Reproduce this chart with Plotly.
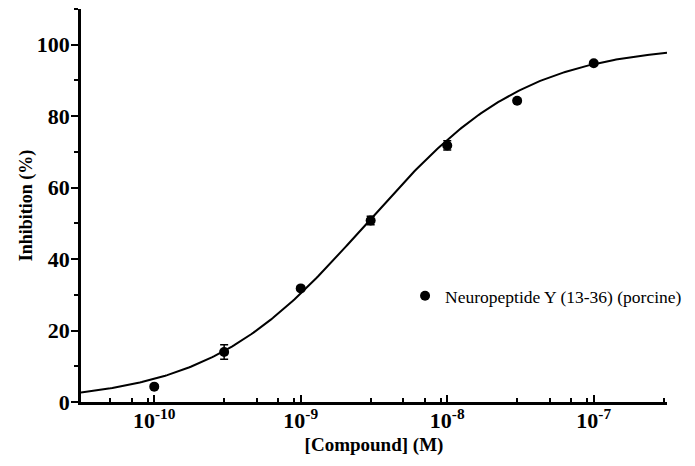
import numpy as np
import plotly.graph_objects as go

# Data
concentrations = [1e-10, 3e-10, 1e-9, 3e-9, 1e-8, 3e-8, 1e-7]
inhibition = [4.3, 14.0, 31.8, 50.8, 71.8, 84.3, 94.8]
inhibition_err = [0.4, 2.0, 0.6, 1.2, 1.3, 0.6, 0.5]
series_name = "Neuropeptide Y (13-36) (porcine)"

# 4-parameter logistic fit parameters
fit_bottom = 0.0
fit_top = 100.0
fit_log_ic50 = -8.55
fit_hill = 0.8

x_tickvals = [1e-10, 1e-9, 1e-8, 1e-7]
x_ticktext = ["10<sup>-10</sup>", "10<sup>-9</sup>", "10<sup>-8</sup>", "10<sup>-7</sup>"]
x_minor_vals = [m * 10.0 ** e for e in range(-11, -6) for m in (3, 5, 7, 9)]
y_tickvals = [0, 20, 40, 60, 80, 100]

x_log_range = [-10.5, -6.5]
y_range = [0, 110]

curve_x = np.logspace(x_log_range[0], x_log_range[1], 300)
curve_y = fit_bottom + (fit_top - fit_bottom) / (1 + (10 ** fit_log_ic50 / curve_x) ** fit_hill)

FONT = "Liberation Serif"

fig = go.Figure()
fig.add_trace(go.Scatter(
    x=curve_x, y=curve_y, mode="lines",
    line=dict(color="black", width=2),
    showlegend=False, hoverinfo="skip",
))
fig.add_trace(go.Scatter(
    x=concentrations, y=inhibition, mode="markers",
    name=series_name,
    marker=dict(color="black", size=10),
    error_y=dict(type="data", array=inhibition_err, color="black", thickness=1.5, width=4),
))

fig.update_layout(
    width=695, height=466,
    margin=dict(l=81, r=8, t=9, b=64),
    plot_bgcolor="white", paper_bgcolor="white",
    font=dict(family=FONT, color="black"),
    legend=dict(
        x=0.553, y=0.27, xanchor="left", yanchor="middle",
        font=dict(family=FONT, size=17.5, color="black"),
        bgcolor="rgba(0,0,0,0)",
    ),
)
fig.update_xaxes(
    type="log", range=x_log_range, automargin=False,
    showline=True, linecolor="black", linewidth=2.5,
    showgrid=False, zeroline=False,
    ticks="inside", ticklen=7, tickwidth=2, tickcolor="black",
    tickvals=x_tickvals, ticktext=x_ticktext, ticklabelstandoff=-3,
    tickfont=dict(family=FONT, size=22, weight="bold"),
    minor=dict(tickvals=x_minor_vals, ticks="inside", ticklen=4, tickwidth=2, tickcolor="black", showgrid=False),
    title=dict(text="[Compound] (M)", font=dict(family=FONT, size=19, weight="bold"), standoff=6),
)
fig.update_yaxes(
    range=y_range, automargin=False,
    showline=True, linecolor="black", linewidth=2.5,
    showgrid=False, zeroline=False,
    ticks="outside", ticklen=7, tickwidth=2, tickcolor="black",
    tickvals=y_tickvals, ticklabelstandoff=-3,
    tickfont=dict(family=FONT, size=22, weight="bold"),
    minor=dict(dtick=10, tick0=10, ticks="outside", ticklen=4, tickwidth=2, tickcolor="black", showgrid=False),
    title=dict(text="Inhibition (%)", font=dict(family=FONT, size=18, weight="bold"), standoff=0),
)

# remove the default page margin so the figure sits at the window's top-left corner
fig.write_html(
    "out.html",
    config={"displayModeBar": False},
    post_script="document.body.style.margin='0';document.body.style.overflow='hidden';",
)
